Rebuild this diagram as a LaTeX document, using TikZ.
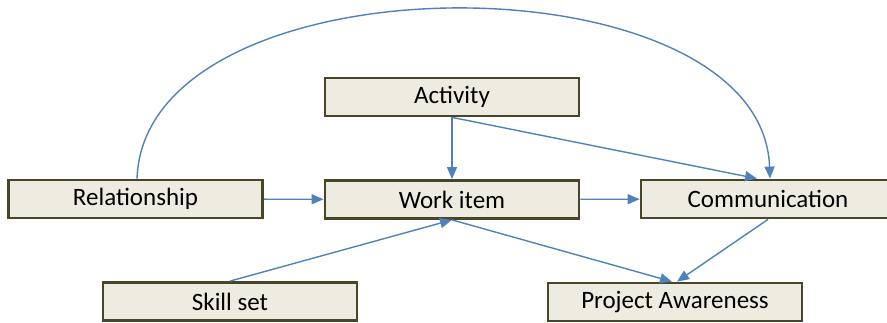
\documentclass[tikz,border=0pt]{standalone}
\usepackage{fontspec}
\setmainfont{Carlito}
\usetikzlibrary{arrows.meta}
\definecolor{boxfill}{HTML}{EEECE1}
\definecolor{boxline}{HTML}{494529}
\definecolor{linkblue}{HTML}{4F81BD}
\tikzset{
  concept/.style={draw=boxline, line width=2.8pt, fill=boxfill,
    minimum width=254pt, minimum height=38pt, inner sep=0pt,
    font=\fontsize{25}{30}\selectfont, text=black},
  link/.style={draw=linkblue, line width=1.4pt,
    -{Triangle[length=12pt,width=10pt]}}
}
\begin{document}
\begin{tikzpicture}[x=1pt,y=1pt]
\useasboundingbox (0,0) rectangle (887,323);
\clip (0,0) rectangle (887,323);
\node[concept] (act)   at (452,226)   {Activity};
\node[concept] (rel)   at (135.5,124) {Relationship};
\node[concept] (work)  at (452,123.5) {Work item};
\node[concept] (comm)  at (768,124)   {Communication};
\node[concept] (skill) at (230,21.5)  {Skill set};
\node[concept] (pa)    at (675,21)    {Project Awareness};

\draw[link] (rel) -- (work);
\draw[link] (work) -- (comm);
\draw[link] (act.south) -- (work.north);
\draw[link] (act.south) -- ([xshift=-11pt]comm.north);
\draw[link] (skill.north) -- (work.south);
\draw[link] (work.south) -- ([xshift=-3pt]pa.north);
\draw[link] (comm.south) -- ([xshift=2pt]pa.north);
\draw[link] ([xshift=1.5pt]rel.north) .. controls (145,370) and (762,370) .. ([xshift=2pt]comm.north);
\end{tikzpicture}
\end{document}
